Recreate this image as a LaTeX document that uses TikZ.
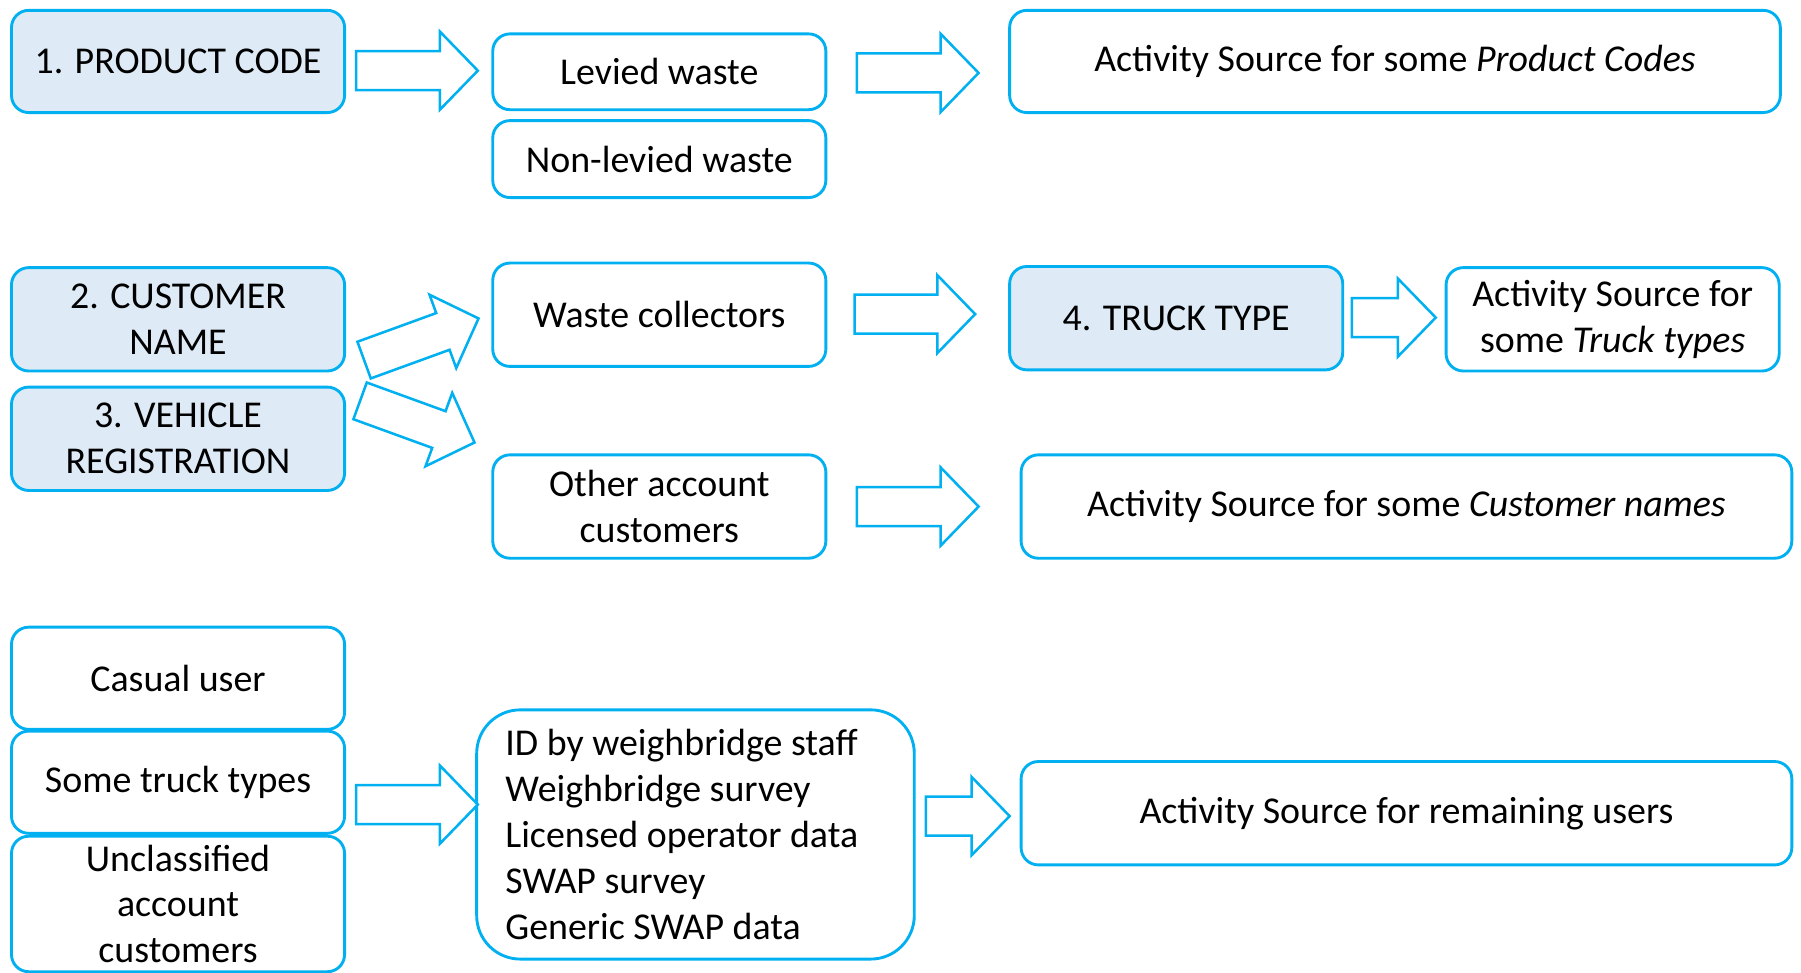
\documentclass[tikz,border=0pt]{standalone}
\usepackage{fontspec}
\setmainfont{Carlito}
\definecolor{bl}{RGB}{0,176,240}
\definecolor{lb}{RGB}{222,235,247}
\newcommand\bArrow[4]{%
  \draw[arrowline, shift={(#1,#2)}, rotate=#4] (0,-17) -- ({#3-33},-17) -- ({#3-33},-34) -- (#3,0) -- ({#3-33},34) -- ({#3-33},17) -- (0,17) -- cycle;}
\begin{document}
\begin{tikzpicture}[x=1pt,y=-1pt,
  box/.style={draw=bl, line width=2.5pt, rounded corners=15pt, align=center,
    font=\fontsize{33}{40}\selectfont, inner sep=0pt, text=black, fill=white},
  num/.style={box, fill=lb},
  sw/.style={minimum width=290pt, minimum height=90pt},
  lw/.style={minimum width=671pt, minimum height=90pt},
  arrowline/.style={draw=bl, line width=2.2pt, fill=white, line join=miter}]
\useasboundingbox (0,0) rectangle (1568,847);
% row 1
\node[num, sw, minimum height=89pt] (pc) at (155,53.5) {1. PRODUCT CODE};
\node[box, sw, minimum height=66pt] (lev) at (574,62.5) {Levied waste};
\node[box, sw, minimum height=67pt] (nonlev) at (574,138.5) {Non-levied waste};
\node[box, lw, minimum height=89pt] (aspc) at (1214.5,53.5) {Activity Source for some \textit{Product Codes}};
% row 2
\node[num, sw] (cn) at (155,278) {2. CUSTOMER\\NAME};
\node[num, sw] (vr) at (155,382) {3. VEHICLE\\REGISTRATION};
\node[box, sw] (wc) at (574,274) {Waste collectors};
\node[box, sw] (oac) at (574,441) {Other account\\customers};
\node[num, sw] (tt) at (1024,277) {4. TRUCK TYPE};
\node[box, sw] (astt) at (1404,278) {Activity Source for\\some \textit{Truck types}};
\node[box, lw] (ascn) at (1224.5,441) {Activity Source for some \textit{Customer names}};
% row 3
\node[box, sw, minimum height=89pt] (cu) at (155,590.5) {Casual user};
\node[box, sw, minimum height=89pt] (st) at (155,681) {Some truck types};
\node[box, sw, minimum height=118pt] (uac) at (155,787) {Unclassified\\account\\customers};
\node[box, rounded corners=38pt, align=flush left, text width=331pt, inner xsep=25pt, minimum height=217pt] (src) at (605.5,726.5)
  {ID by weighbridge staff\\Weighbridge survey\\Licensed operator data\\SWAP survey\\Generic SWAP data};
\node[box, lw] (asru) at (1224.5,708) {Activity Source for remaining users};
% block arrows
\bArrow{310}{61.5}{106}{0}
\bArrow{746}{63.5}{106}{0}
\bArrow{317}{313.5}{106}{20}
\bArrow{313.5}{349}{106}{-20}
\bArrow{744}{273.5}{105}{0}
\bArrow{1177}{276.5}{73}{0}
\bArrow{746}{441}{106}{0}
\bArrow{310}{700.5}{106}{0}
\bArrow{806}{710.5}{73}{0}
\end{tikzpicture}
\end{document}
